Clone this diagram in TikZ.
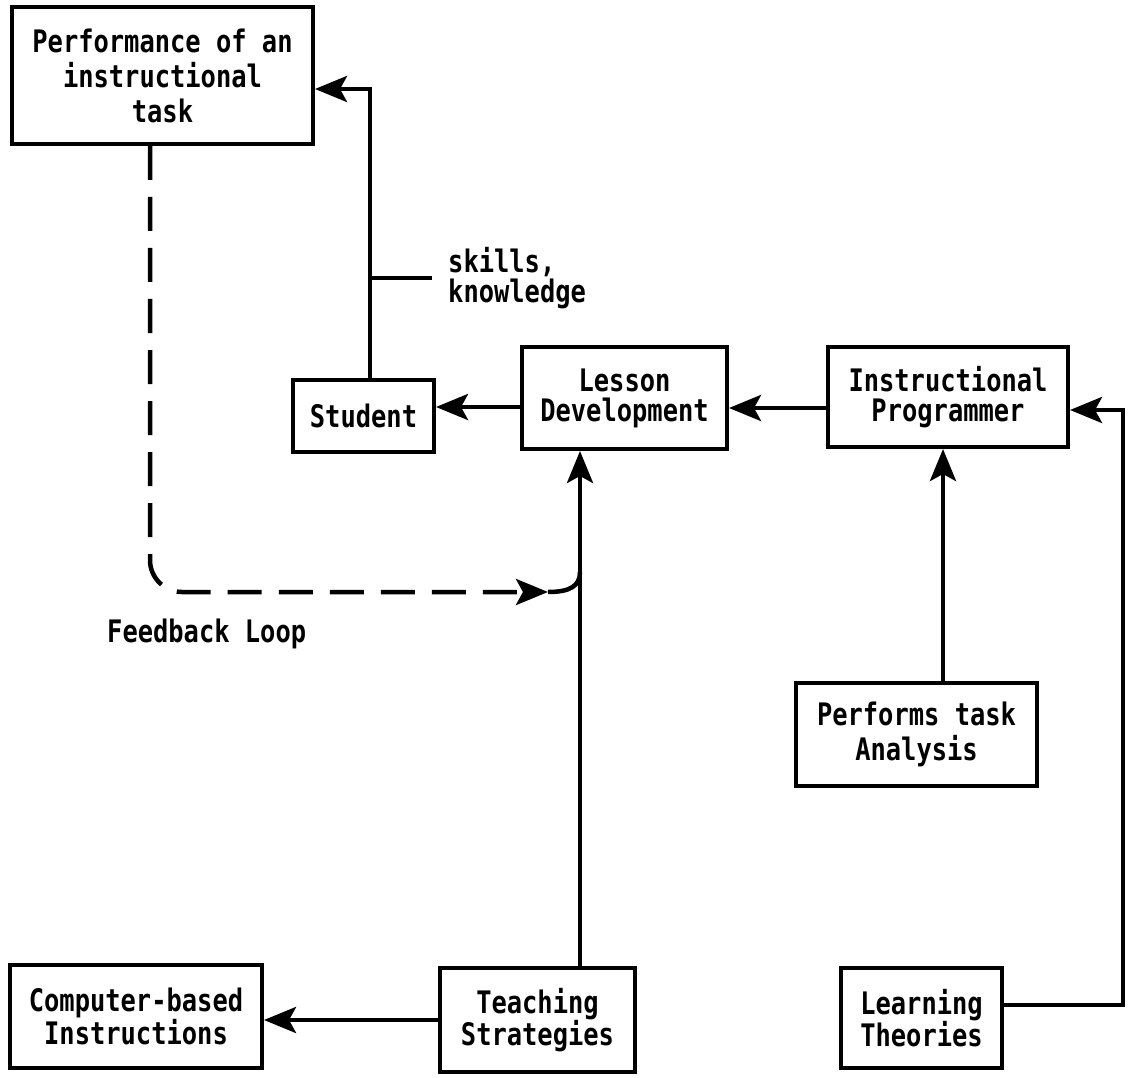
\documentclass[tikz,border=0pt]{standalone}
\usepackage{fontspec}
\newfontfamily\diagfont[FakeStretch=0.82]{DejaVu Sans Mono}
\usetikzlibrary{arrows.meta}
\begin{document}
\begin{tikzpicture}[x=1pt,y=-1pt,
  txt/.style={font=\diagfont\bfseries\fontsize{31}{30}\selectfont},
  box/.style={txt, draw, line width=4pt, rectangle, align=center, inner sep=0pt},
  conn/.style={line width=4.5pt},
  tip/.style={-{Stealth[length=32pt,width=26pt,inset=7pt]}},
  arr/.style={conn, tip},
  fbline/.style={line width=4.5pt, dash pattern=on 34pt off 17pt},
  lbl/.style={txt, inner sep=0pt, align=left}]
\useasboundingbox (0,0) rectangle (1136,1078);

% boxes
\node[box, font=\diagfont\bfseries\fontsize{31}{35}\selectfont,
      minimum width=301pt, minimum height=137pt] (perf) at (162.5,75.5)
      {Performance of an\\instructional\\task};
\node[box, minimum width=141pt, minimum height=72pt] (student) at (363.5,416) {Student};
\node[box, minimum width=205pt, minimum height=102pt] (lesson) at (624.5,398) {Lesson\\Development};
\node[box, minimum width=240pt, minimum height=100pt] (prog) at (948,397) {Instructional\\Programmer};
\node[box, font=\diagfont\bfseries\fontsize{31}{35}\selectfont,
      minimum width=241pt, minimum height=103pt] (task) at (916.5,734.5) {Performs task\\Analysis};
\node[box, minimum width=252pt, minimum height=103pt] (cbi) at (136,1016.5) {Computer-based\\Instructions};
\node[box, minimum width=195pt, minimum height=104pt] (teach) at (537.5,1020) {Teaching\\Strategies};
\node[box, minimum width=161pt, minimum height=100pt] (learn) at (921.5,1018) {Learning\\Theories};

% labels
\node[lbl, anchor=west, inner xsep=16pt] (skl) at (432,278) {skills,\\knowledge};
\node[lbl, anchor=base west] (fbl) at (107,642) {Feedback Loop};

% helper coordinates
\coordinate (sv) at (370,89);
\coordinate (sk) at (370,278);
\coordinate (tx) at (943,0);
\coordinate (tv) at (580,0);
\coordinate (rc) at (1123,410);
\coordinate (fx) at (150,0);
\coordinate (fb) at (548,592);
\coordinate (jn) at (580,572);

% connectors
\draw[arr] (student.north -| sv) -- (sv) -- (perf.east |- sv);
\draw[conn] (sk) -- (skl.west);
\draw[arr] ([yshift=-9pt]lesson.west) -- ([yshift=9pt]student.east);
\draw[arr] ([yshift=-11pt]prog.west) -- ([yshift=-10pt]lesson.east);
\draw[arr] (task.north -| tx) -- (prog.south -| tx);
\draw[arr] ([yshift=13pt]learn.east) -| (rc) -- (prog.east |- rc);
\draw[arr] (teach.north -| tv) -- (lesson.south -| tv);
\draw[arr] (teach.west) -- (cbi.east |- teach.west);

% feedback loop
\draw[fbline, tip, rounded corners=32pt]
  (perf.south -| fx) |- (fb);
\draw[conn] (fb) .. controls (570,592) and (580,586) .. (jn);
\end{tikzpicture}
\end{document}
